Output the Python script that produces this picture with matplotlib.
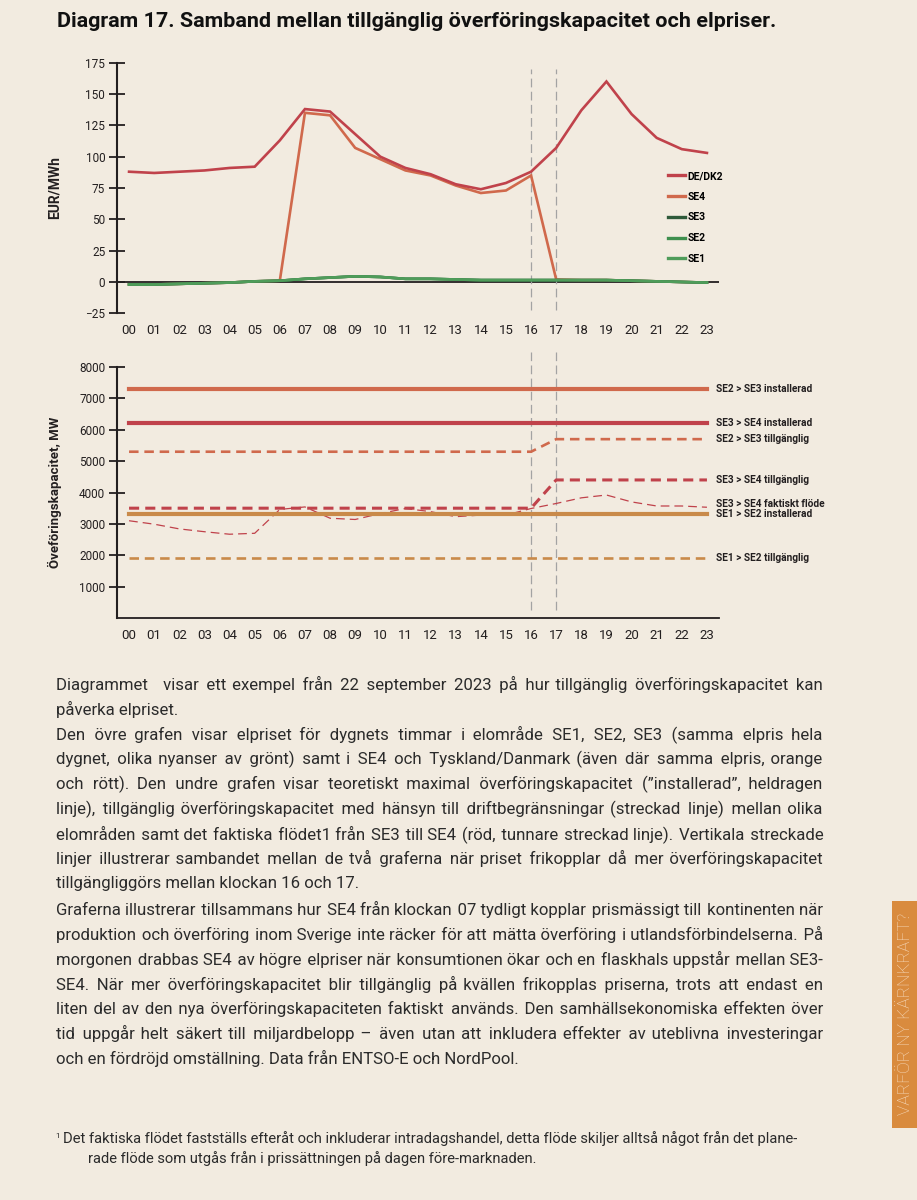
'''
diagram 17: samband mellan tillgänglig överföringskapacitet och elpriser.
'''

import matplotlib
matplotlib.use("Agg")
import matplotlib.pyplot as plt
from matplotlib.lines import Line2D
from matplotlib.patches import Rectangle

plt.rcParams["font.family"] = ["Roboto", "DejaVu Sans"]

# hours of the day (x axis of both graphs).
hours = ["00", "01", "02", "03", "04", "05", "06", "07", "08", "09", "10", "11",
         "12", "13", "14", "15", "16", "17", "18", "19", "20", "21", "22", "23"]

# elpris, EUR/MWh.
price_de_dk2 = [88, 87, 88, 89, 91, 92, 113, 138, 136, 118, 100, 91,
                86, 78, 74, 79, 88, 107, 137, 160, 134, 115, 106, 103]
price_se4 = [-2, -2, -1.5, -1, -0.5, 0.5, 1, 135, 133, 107, 98, 89,
             85, 77, 71, 73, 85, 2, 1.5, 1.5, 1, 0.5, 0, -0.5]
price_se3 = [-2, -2, -1.5, -1, -0.5, 0.5, 1, 2.5, 3.5, 4.5, 4, 2.5,
             2.5, 2, 1.5, 1.5, 1.5, 1.5, 1.5, 1.5, 1, 0.5, 0, -0.5]
price_se2 = [-2, -2, -1.5, -1, -0.5, 0.5, 1, 2.5, 3.5, 4.5, 4, 2.5,
             2.5, 2, 1.5, 1.5, 1.5, 1.5, 1.5, 1.5, 1, 0.5, 0, -0.5]
price_se1 = [-2, -2, -1.5, -1, -0.5, 0.5, 1, 2.5, 3.5, 4.5, 4, 2.5,
             2.5, 2, 1.5, 1.5, 1.5, 1.5, 1.5, 1.5, 1, 0.5, 0, -0.5]
price_labels = ["DE/DK2", "SE4", "SE3", "SE2", "SE1"]

# överföringskapacitet, MW.
cap_se2_se3_inst = [7300, 7300, 7300, 7300, 7300, 7300, 7300, 7300, 7300, 7300, 7300, 7300,
                    7300, 7300, 7300, 7300, 7300, 7300, 7300, 7300, 7300, 7300, 7300, 7300]
cap_se3_se4_inst = [6200, 6200, 6200, 6200, 6200, 6200, 6200, 6200, 6200, 6200, 6200, 6200,
                    6200, 6200, 6200, 6200, 6200, 6200, 6200, 6200, 6200, 6200, 6200, 6200]
cap_se2_se3_avail = [5300, 5300, 5300, 5300, 5300, 5300, 5300, 5300, 5300, 5300, 5300, 5300,
                     5300, 5300, 5300, 5300, 5300, 5700, 5700, 5700, 5700, 5700, 5700, 5700]
cap_se3_se4_avail = [3500, 3500, 3500, 3500, 3500, 3500, 3500, 3500, 3500, 3500, 3500, 3500,
                     3500, 3500, 3500, 3500, 3500, 4400, 4400, 4400, 4400, 4400, 4400, 4400]
flow_se3_se4 = [3100, 2990, 2840, 2750, 2670, 2700, 3460, 3540, 3180, 3140, 3330, 3490,
                3390, 3230, 3280, 3280, 3490, 3650, 3830, 3920, 3700, 3570, 3570, 3530]
cap_se1_se2_inst = [3300, 3300, 3300, 3300, 3300, 3300, 3300, 3300, 3300, 3300, 3300, 3300,
                    3300, 3300, 3300, 3300, 3300, 3300, 3300, 3300, 3300, 3300, 3300, 3300]
cap_se1_se2_avail = [1900, 1900, 1900, 1900, 1900, 1900, 1900, 1900, 1900, 1900, 1900, 1900,
                     1900, 1900, 1900, 1900, 1900, 1900, 1900, 1900, 1900, 1900, 1900, 1900]
cap_labels = ["SE2 > SE3 installerad", "SE3 > SE4 installerad", "SE2 > SE3 tillgänglig",
              "SE3 > SE4 tillgänglig", "SE3 > SE4 faktiskt flöde", "SE1 > SE2 installerad",
              "SE1 > SE2 tillgänglig"]
cap_label_y = [7300, 6200, 5700, 4400, 3620, 3300, 1900]

title = "Diagram 17. Samband mellan tillgänglig överföringskapacitet och elpriser."
body_lines = [
    "Diagrammet  visar ett exempel från 22 september 2023 på hur tillgänglig överföringskapacitet kan",
    "påverka elpriset.",
    "Den övre grafen visar elpriset för dygnets timmar i elområde SE1, SE2, SE3 (samma elpris hela",
    "dygnet, olika nyanser av grönt) samt i SE4 och Tyskland/Danmark (även där samma elpris, orange",
    "och rött). Den undre grafen visar teoretiskt maximal överföringskapacitet (”installerad”, heldragen",
    "linje), tillgänglig överföringskapacitet med hänsyn till driftbegränsningar (streckad linje) mellan olika",
    "elområden samt det faktiska flödet1 från SE3 till SE4 (röd, tunnare streckad linje). Vertikala streckade",
    "linjer illustrerar sambandet mellan de två graferna när priset frikopplar då mer överföringskapacitet",
    "tillgängliggörs mellan klockan 16 och 17.",
    "Graferna illustrerar tillsammans hur SE4 från klockan 07 tydligt kopplar prismässigt till kontinenten när",
    "produktion och överföring inom Sverige inte räcker för att mätta överföring i utlandsförbindelserna. På",
    "morgonen drabbas SE4 av högre elpriser när konsumtionen ökar och en flaskhals uppstår mellan SE3-",
    "SE4. När mer överföringskapacitet blir tillgänglig på kvällen frikopplas priserna, trots att endast en",
    "liten del av den nya överföringskapaciteten faktiskt används. Den samhällsekonomiska effekten över",
    "tid uppgår helt säkert till miljardbelopp – även utan att inkludera effekter av uteblivna investeringar",
    "och en fördröjd omställning. Data från ENTSO-E och NordPool.",
]
last_lines = [1, 8, 15]   # paragraph ends, not justified.
footnote = ["Det faktiska flödet fastställs efteråt och inkluderar intradagshandel, detta flöde skiljer alltså något från det plane-",
            "rade flöde som utgås från i prissättningen på dagen före-marknaden."]
side_tab = "VARFÖR NY KÄRNKRAFT?"

# colours.
BG = "#f2ebe0"
INK = "#231f20"
RED = "#c0424b"
ORANGE = "#d0694c"
TAN = "#c98a4a"
GREENS = ["#2f5a3a", "#3f8f4e", "#4f9c5a"]
GREY = "#a3a3a3"

W, H = 917, 1200
fig = plt.figure(figsize=(W / 100, H / 100), dpi=100, facecolor=BG)
renderer = fig.canvas.get_renderer()


def box(left, top, right, bottom):
    return [left / W, 1 - bottom / H, (right - left) / W, (bottom - top) / H]


def text_width(s, **kw):
    t = fig.text(0, 0, s, **kw)
    w = t.get_window_extent(renderer).width
    t.remove()
    return w


def style_axes(ax):
    ax.set_facecolor("none")
    for side in ("top", "right"):
        ax.spines[side].set_visible(False)
    ax.spines["left"].set_linewidth(1.5)
    ax.spines["left"].set_color(INK)
    ax.tick_params(axis="y", direction="inout", length=11, width=1.3, color=INK,
                   labelsize=8.5, pad=3, labelcolor=INK)
    ax.tick_params(axis="x", length=0, labelsize=9.5, pad=8, labelcolor=INK)
    ax.set_xlim(-0.48, 23.48)
    ax.set_xticks(range(len(hours)), hours)


xs = list(range(len(hours)))

# upper graph: prices.
ax1 = fig.add_axes(box(117, 62.7, 719, 313.3))
style_axes(ax1)
ax1.spines["bottom"].set_visible(False)
ax1.set_ylim(-25, 175)
ax1.set_yticks(range(-25, 176, 25))
ax1.axhline(0, color=INK, lw=1.3, zorder=1)
ax1.vlines([16, 17], -22, 170, colors=GREY, linestyles=(0, (7, 3.5)), lw=0.9, zorder=1)

price_series = [price_de_dk2, price_se4, price_se3, price_se2, price_se1]
price_colors = [RED, ORANGE] + GREENS
for ys, c, z in zip(price_series, price_colors, [5, 1.5, 2, 2.5, 3]):
    ax1.plot(xs, ys, color=c, lw=1.9, zorder=z, solid_joinstyle="miter")

handles = [Line2D([], [], color=c, lw=2.4) for c in price_colors]
ax1.legend(handles, price_labels, loc="upper left",
           bbox_to_anchor=((668 - 117) / 602, (313.3 - 171) / 250.6),
           frameon=False, handlelength=1.6, handletextpad=0.3, labelspacing=1.03,
           borderpad=0, borderaxespad=0, prop=dict(weight="bold", size=7.5))
ax1.set_ylabel("EUR/MWh", fontsize=10, fontweight="bold", color=INK)
ax1.yaxis.set_label_coords((62 - 117) / 602, 0.5)

# lower graph: transfer capacity.
ax2 = fig.add_axes(box(117, 367, 719, 618))
style_axes(ax2)
ax2.spines["bottom"].set_linewidth(1.3)
ax2.spines["bottom"].set_color(INK)
ax2.set_ylim(0, 8000)
ax2.set_yticks(range(1000, 8001, 1000))
ax2.vlines([16, 17], 250, 8480, colors=GREY, linestyles=(0, (7, 3.5)), lw=0.9, zorder=1, clip_on=False)

ax2.plot(xs, cap_se2_se3_inst, color=ORANGE, lw=3.0, zorder=3)
ax2.plot(xs, cap_se3_se4_inst, color=RED, lw=3.0, zorder=3)
ax2.plot(xs, cap_se2_se3_avail, color=ORANGE, lw=1.9, dashes=(3.6, 2.2), zorder=3)
ax2.plot(xs, cap_se3_se4_avail, color=RED, lw=2.2, dashes=(3.3, 2.0), zorder=4)
ax2.plot(xs, flow_se3_se4, color=RED, lw=0.9, dashes=(7, 4), zorder=2)
ax2.plot(xs, cap_se1_se2_inst, color=TAN, lw=3.0, zorder=3)
ax2.plot(xs, cap_se1_se2_avail, color=TAN, lw=1.9, dashes=(3.6, 2.2), zorder=3)

for label, y in zip(cap_labels, cap_label_y):
    ax2.text(23.35, y, label, fontsize=7.3, fontweight="bold", color=INK,
             va="center", ha="left", clip_on=False)
ax2.set_ylabel("Öveföringskapacitet, MW", fontsize=9.5, fontweight="bold", color=INK)
ax2.yaxis.set_label_coords((62 - 117) / 602, 0.5)

# title, fitted to the width of the original heading.
title_kw = dict(fontweight="bold", color="#111111")
title_size = 14 * 720 / text_width(title, fontsize=14, **title_kw)
fig.text(57 / W, 1 - 27 / H, title, fontsize=title_size, va="baseline", **title_kw)

# body text, justified between x = 56 and x = 823 by padding the gaps with hair spaces.
LEFT, RIGHT = 56, 823
HAIR = "\u200a"
body_kw = dict(color="#2b2b2b")
widest = max(text_width(line, fontsize=10, **body_kw) for i, line in enumerate(body_lines)
             if i not in last_lines)
body_size = min(12.5, 10 * (RIGHT - LEFT) / widest * 0.99)
hair = (text_width("a" + HAIR * 20 + "a", fontsize=body_size, **body_kw)
        - text_width("aa", fontsize=body_size, **body_kw)) / 20


def justified(line):
    words = line.split(" ")
    extra = RIGHT - LEFT - text_width(line, fontsize=body_size, **body_kw)
    gaps = len(words) - 1
    out, placed = words[0], 0
    for k, w in enumerate(words[1:], 1):
        n = int(round(extra * k / gaps / hair)) - placed
        placed += n
        out += " " + HAIR * max(n, 0) + w
    return out


for i, line in enumerate(body_lines):
    baseline = 690 + i * 24.8 + (2 if i > 8 else 0)
    s = line if (i in last_lines or hair <= 0) else justified(line)
    fig.text(LEFT / W, 1 - baseline / H, s, fontsize=body_size, va="baseline", **body_kw)

# footnote.
foot_kw = dict(color="#2b2b2b")
foot_size = 9 * (805 - 63) / text_width(footnote[0], fontsize=9, **foot_kw)
fig.text(55 / W, 1 - 1138 / H, "1", fontsize=foot_size * 0.55, va="baseline", **foot_kw)
fig.text(63 / W, 1 - 1143 / H, footnote[0], fontsize=foot_size, va="baseline", **foot_kw)
fig.text(88 / W, 1 - 1163 / H, footnote[1], fontsize=foot_size, va="baseline", **foot_kw)

# side tab.
fig.patches.append(Rectangle((892 / W, 1 - 1128 / H), 25 / W, 227 / H,
                             transform=fig.transFigure, facecolor="#d98b3e", edgecolor="none"))
tab_kw = dict(color="#f7dcc0", fontweight="light")
tab_size = 10 * 202 / text_width(side_tab, fontsize=10, **tab_kw)
fig.text(905 / W, 1 - 1014 / H, side_tab, fontsize=tab_size, rotation=90,
         ha="center", va="center", **tab_kw)

fig.savefig("out.png", dpi=100, facecolor=BG)
